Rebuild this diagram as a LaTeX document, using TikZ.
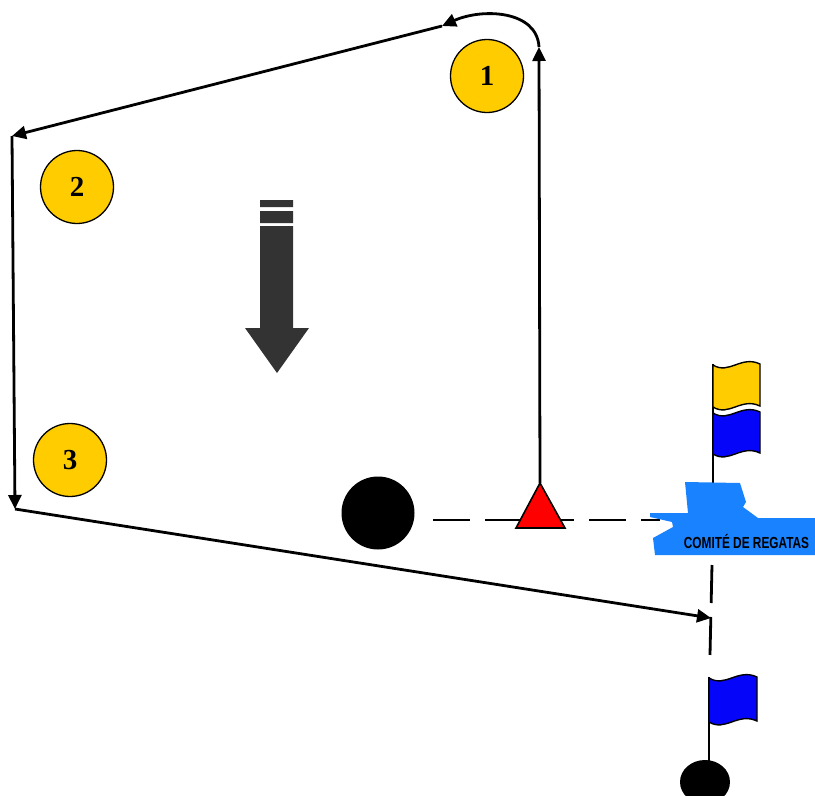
\documentclass[tikz,border=0pt]{standalone}
\usepackage{fontspec}
\setmainfont{Liberation Serif}
\newfontfamily\boatfont{Liberation Sans}
\usetikzlibrary{arrows.meta}
\definecolor{buoyyellow}{RGB}{255,204,0}
\definecolor{boatblue}{RGB}{25,130,255}
\definecolor{flagblue}{RGB}{5,5,250}
\definecolor{windgray}{RGB}{51,51,51}
\tikzstyle{buoy}=[circle,draw,line width=1.3pt,fill=buoyyellow,minimum size=73pt,inner sep=0pt,font=\fontsize{29}{29}\selectfont\bfseries]
\tikzstyle{course}=[line width=2.8pt,-{Triangle[length=14pt,width=13pt]}]
\tikzstyle{dashline}=[line width=2.8pt]
\tikzstyle{pole}=[line width=1.6pt]
% wavy flag: x, y (top left at the pole), width, height, colour
\newcommand{\wavyflag}[5]{%
  \filldraw[fill=#5,line width=1.4pt] (#1,#2) .. controls ++(0.34*#3,10) and ++(-0.4*#3,-9) .. ++(#3,-1)
    -- ++(0,#4) .. controls ++(-0.4*#3,-9) and ++(0.34*#3,10) .. (#1,#2+#4) -- cycle;}

\begin{document}
\begin{tikzpicture}[x=1pt,y=-1pt]
    \useasboundingbox (0,0) rectangle (815,796);
    \node[buoy] (m1) at (487,76)  {1};
    \node[buoy] (m2) at (77,187)  {2};
    \node[buoy] (m3) at (70,460)  {3};
    \node[circle,fill=black,minimum size=73pt,inner sep=0pt] (pin) at (378,513) {};

    % course
    \coordinate (st) at (540,483);
    \coordinate (a1) at (539,47);
    \coordinate (a2) at (442,26);
    \coordinate (a3) at (12,136);
    \coordinate (a4) at (15,509);
    \coordinate (fin) at (711,618);
    \draw[course] (st) -- (a1);
    \draw[course] (a1) .. controls (537,10) and (482,8) .. (a2);
    \foreach \from/\to in {a2/a3,a3/a4,a4/fin}
    \draw[course] (\from) -- (\to);

    % starting line and finish line
    \coordinate (sl1) at (433,520);
    \coordinate (sl2) at (660,520);
    \coordinate (fl1) at (712,565);
    \coordinate (fl2) at (710,655);
    \draw[dashline,dash pattern=on 37pt off 15pt] (sl1) -- (sl2);
    \draw[dashline,dash pattern=on 38pt off 14pt] (fl1) -- (fl2);
    \filldraw[fill=red,line width=1.6pt,line join=miter] (516,528) -- (st) -- (565,528) -- cycle;

    % wind
    \fill[windgray] (260,200) rectangle (293,207) (260,211) rectangle (293,223)
      (260,226) -- (293,226) -- (293,328) -- (309,328) -- (277,373) -- (245,328) -- (260,328) -- cycle;

    % committee boat
    \draw[pole] (713,364) -- (713,483);
    \wavyflag{713}{365}{47}{42}{buoyyellow}
    \wavyflag{713}{413}{47}{41}{flagblue}
    \fill[boatblue] (685,482) -- (740,483) -- (746,502) -- (743,507) -- (758,518) -- (815,518)
      -- (815,555) -- (655,555) -- (653,538) -- (673,527) -- (672,522) -- (650,517)
      -- (650,513) -- (688,513) -- cycle;
    \node[xscale=0.74,inner sep=0pt,font=\boatfont\fontsize{16}{16}\selectfont\bfseries] (rc) at (746.5,541) {COMITÉ DE REGATAS};

    % pin end of finish
    \draw[pole] (709,677) -- (709,765);
    \wavyflag{709}{678}{48}{44}{flagblue}
    \fill (705,782) ellipse (25 and 22);
\end{tikzpicture}
\end{document}
